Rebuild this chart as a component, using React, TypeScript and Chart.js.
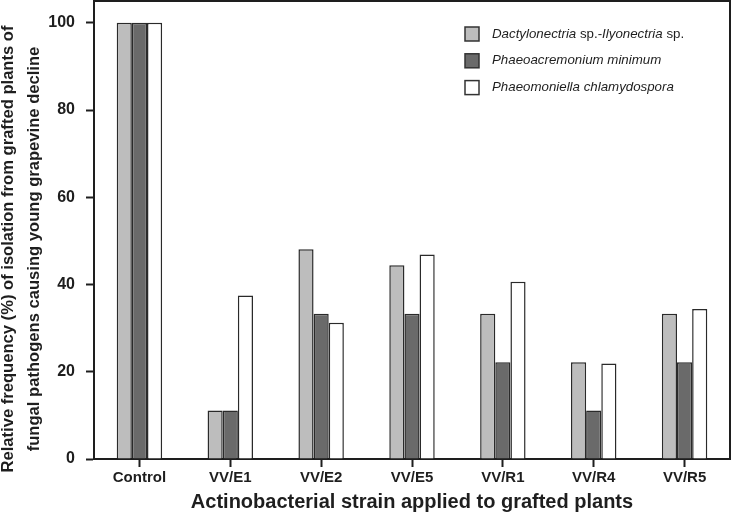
import { useEffect, useRef } from 'react';
import { Chart, registerables } from 'chart.js';

Chart.register(...registerables);

const categories = ['Control', 'VV/E1', 'VV/E2', 'VV/E5', 'VV/R1', 'VV/R4', 'VV/R5'];
const dactylonectria = [100, 11.1, 48.1, 44.4, 33.3, 22.2, 33.3];
const phaeoacremonium = [100, 11.1, 33.3, 33.3, 22.2, 11.1, 22.2];
const phaeomoniella = [100, 37.5, 31.25, 46.875, 40.625, 21.875, 34.375];
const yTickValues = [0, 20, 40, 60, 80, 100];

const seriesNames = [
  'Dactylonectria sp.-Ilyonectria sp.',
  'Phaeoacremonium minimum',
  'Phaeomoniella chlamydospora',
];
// legend text pieces (italic flag) for mixed-style species names
const legendPieces: { text: string; italic: boolean }[][] = [
  [
    { text: 'Dactylonectria', italic: true },
    { text: ' sp.-', italic: false },
    { text: 'Ilyonectria', italic: true },
    { text: ' sp.', italic: false },
  ],
  [{ text: 'Phaeoacremonium minimum', italic: true }],
  [{ text: 'Phaeomoniella chlamydospora', italic: true }],
];

const yTitleLines = [
  'Relative frequency (%) of isolation from grafted plants of',
  'fungal pathogens causing young grapevine decline',
];
const xTitle = 'Actinobacterial strain applied to grafted plants';

const SANS = '"Liberation Sans", Arial, Helvetica, sans-serif';
const INK = '#1e1e1e';

const framePlugin = {
  id: 'frame',
  afterDraw(chart: any) {
    const { ctx, chartArea } = chart;
    ctx.save();
    ctx.strokeStyle = INK;
    ctx.lineWidth = 2;
    ctx.beginPath();
    ctx.moveTo(chartArea.left, chartArea.top);
    ctx.lineTo(chartArea.right, chartArea.top);
    ctx.lineTo(chartArea.right, chartArea.bottom);
    ctx.stroke();
    ctx.restore();
  },
};

// condensed, rotated two-line y-axis title
const yTitlePlugin = {
  id: 'yTitle',
  afterDraw(chart: any) {
    const { ctx } = chart;
    ctx.save();
    ctx.font = `bold 16px ${SANS}`;
    ctx.fillStyle = INK;
    ctx.textAlign = 'center';
    ctx.textBaseline = 'alphabetic';
    const w0 = ctx.measureText(yTitleLines[0]).width;
    const sx = 447 / w0;
    const baselines = [12.5, 38.5];
    yTitleLines.forEach((line, i) => {
      ctx.save();
      ctx.translate(baselines[i], 249);
      ctx.rotate(-Math.PI / 2);
      ctx.scale(sx, 1);
      ctx.fillText(line, 0, 0);
      ctx.restore();
    });
    ctx.restore();
  },
};

const legendPlugin = {
  id: 'customLegend',
  afterDraw(chart: any) {
    const { ctx, chartArea } = chart;
    ctx.save();
    const x0 = chartArea.right - 265;
    chart.data.datasets.forEach((ds: any, i: number) => {
      const yc = chartArea.top + 33 + i * 26.8;
      ctx.fillStyle = ds.backgroundColor;
      ctx.fillRect(x0, yc - 7, 14, 14);
      ctx.strokeStyle = '#333';
      ctx.lineWidth = 1.5;
      ctx.strokeRect(x0, yc - 7, 14, 14);
      let x = x0 + 27;
      ctx.fillStyle = INK;
      ctx.textBaseline = 'middle';
      ctx.textAlign = 'left';
      for (const p of legendPieces[i]) {
        ctx.font = `${p.italic ? 'italic ' : ''}13.3px ${SANS}`;
        ctx.fillText(p.text, x, yc);
        x += ctx.measureText(p.text).width;
      }
    });
    ctx.restore();
  },
};

export default function App() {
  const ref = useRef<HTMLCanvasElement | null>(null);

  useEffect(() => {
    if (!ref.current) return;
    const common = { borderColor: '#2a2a2a', borderWidth: 1.5, categoryPercentage: 0.5, barPercentage: 1.0 };
    const chart = new Chart(ref.current, {
      type: 'bar',
      data: {
        labels: categories,
        datasets: [
          { label: seriesNames[0], data: dactylonectria, backgroundColor: '#bdbdbd', ...common },
          { label: seriesNames[1], data: phaeoacremonium, backgroundColor: '#6a6a6a', ...common },
          { label: seriesNames[2], data: phaeomoniella, backgroundColor: '#ffffff', ...common },
        ],
      },
      options: {
        responsive: false,
        animation: false,
        layout: { padding: { top: 1, right: 3, left: 0, bottom: 0 } },
        plugins: { legend: { display: false }, tooltip: { enabled: false } },
        scales: {
          x: {
            grid: {
              display: true,
              drawOnChartArea: false,
              drawTicks: true,
              tickLength: 8,
              tickWidth: 2,
              tickColor: INK,
              offset: false,
            },
            border: { display: true, color: INK, width: 2 },
            ticks: { color: INK, padding: 2, font: { family: SANS, size: 15, weight: 'bold' } },
            title: {
              display: true,
              text: xTitle,
              color: INK,
              font: { family: SANS, size: 20, weight: 'bold' },
              padding: { top: 0, bottom: 2 },
            },
            afterFit(s: any) {
              s.height = 57;
              s.paddingLeft = 0;
              s.paddingRight = 0;
            },
          },
          y: {
            min: 0,
            max: 105,
            grid: {
              display: true,
              drawOnChartArea: false,
              drawTicks: true,
              tickLength: 8,
              tickWidth: 2,
              tickColor: INK,
            },
            border: { display: true, color: INK, width: 2 },
            ticks: { stepSize: 20, color: INK, padding: 11, font: { family: SANS, size: 16, weight: 'bold' } },
            afterBuildTicks(s: any) {
              s.ticks = yTickValues.map((v) => ({ value: v }));
            },
            title: { display: false },
            afterFit(s: any) {
              s.width = 94;
              s.paddingTop = 0;
              s.paddingBottom = 0;
            },
          },
        },
      },
      plugins: [framePlugin, yTitlePlugin, legendPlugin],
    } as any);
    return () => chart.destroy();
  }, []);

  return (
    <div style={{ position: 'fixed', left: 0, top: 0, width: 733, height: 516, background: '#fff' }}>
      <canvas ref={ref} width={733} height={516} />
    </div>
  );
}
